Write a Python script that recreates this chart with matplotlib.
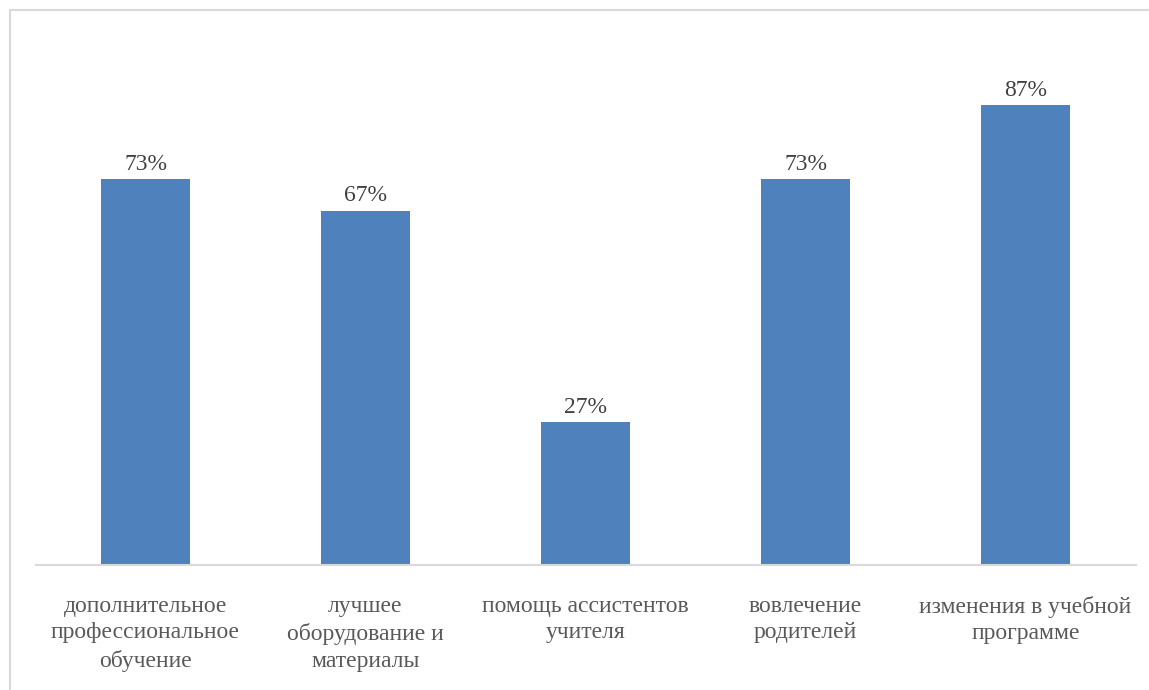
import numpy as np
import matplotlib
matplotlib.use("Agg")
import matplotlib.pyplot as plt
from matplotlib.patches import Rectangle

categories = [
    "дополнительное\nпрофессиональное\nобучение",
    "лучшее\nоборудование и\nматериалы",
    "помощь ассистентов\nучителя",
    "вовлечение\nродителей",
    "изменения в учебной\nпрограмме",
]
values = [0.73, 0.67, 0.27, 0.73, 0.87]
value_labels = ["73%", "67%", "27%", "73%", "87%"]

BAR_C = "#4f81bd"
GRID_C = "#d9d9d9"

plt.rcParams["font.family"] = ["Liberation Serif", "DejaVu Serif"]

W, H = 1149, 690
fig = plt.figure(figsize=(W / 100, H / 100), dpi=100)
ax = fig.add_axes([35.5 / W, 1 - 565 / H, 1100 / W, (565 - 36) / H])

x = np.arange(len(categories))
ax.bar(x, values, width=0.405, color=BAR_C, zorder=2)

for xi, v, lbl in zip(x, values, value_labels):
    ax.annotate(lbl, (xi, v), xytext=(0, 3), textcoords="offset points",
                ha="center", va="bottom", fontsize=17, color="#404040")

ax.set_xlim(-0.5, len(categories) - 0.5)
ax.set_ylim(0, 1.0)
ax.set_yticks([])
ax.set_xticks(x)
ax.set_xticklabels(categories, fontsize=17, color="#595959", linespacing=1.37)
ax.tick_params(axis="x", length=0, pad=22)

for s in ["top", "right", "left"]:
    ax.spines[s].set_visible(False)
ax.spines["bottom"].set_color(GRID_C)
ax.spines["bottom"].set_linewidth(1.5)

# outer chart border (only top/left edges fall inside the image)
fig.patches.append(Rectangle((9.5 / W, -0.5), 2.0, 1 - 9.5 / H + 0.5,
                             transform=fig.transFigure, fill=False,
                             edgecolor=GRID_C, linewidth=1.5))

fig.savefig("out.png", dpi=100)
